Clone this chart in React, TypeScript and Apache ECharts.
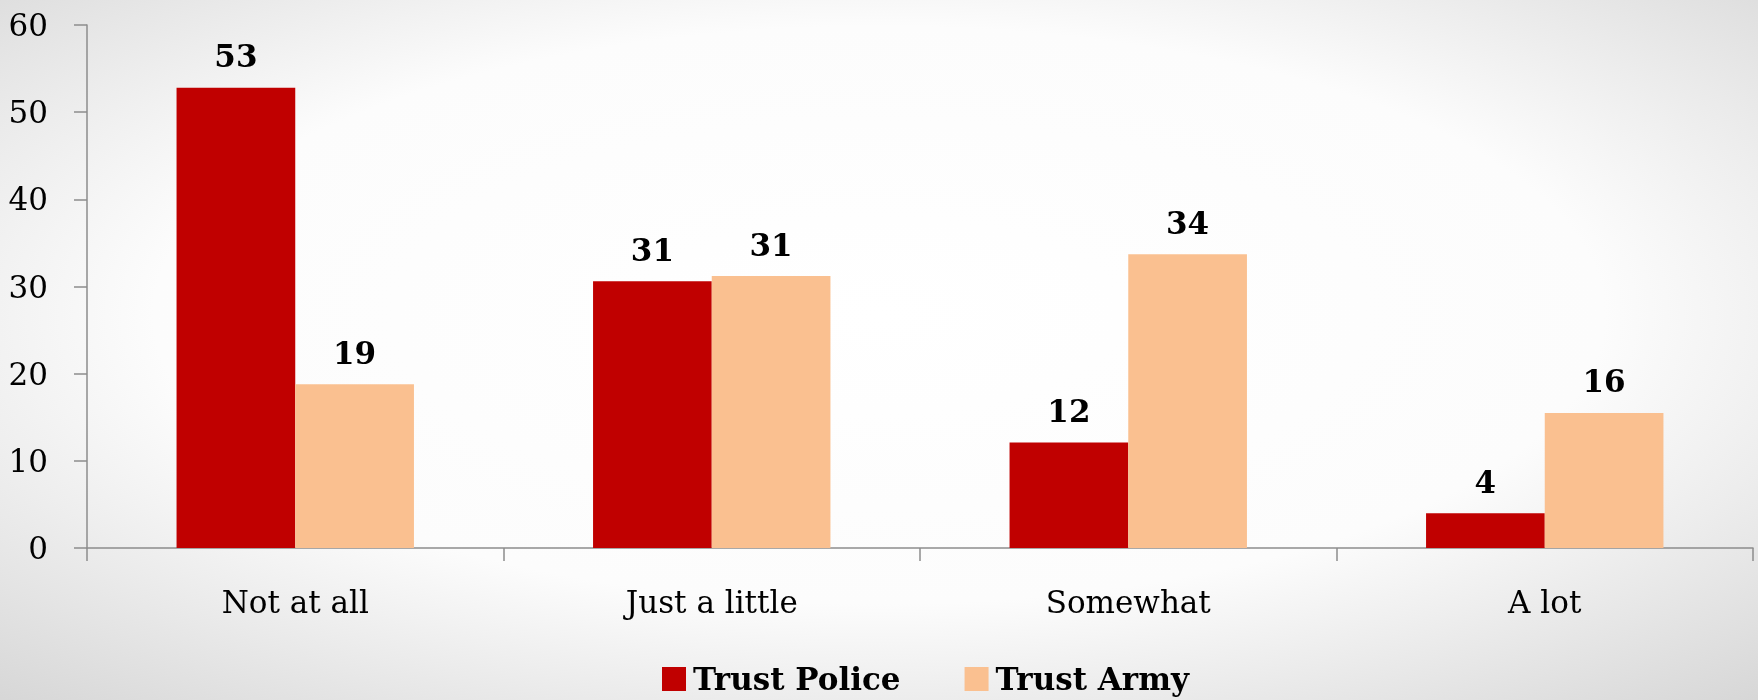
import React, { useEffect, useRef } from "react";
import * as echarts from "echarts";

const categories = ["Not at all", "Just a little", "Somewhat", "A lot"];
const trustPolice = [52.8, 30.6, 12.1, 4.0];
const trustArmy = [18.8, 31.2, 33.7, 15.5];
const seriesNames = ["Trust Police", "Trust Army"];
const yTicks = { min: 0, max: 60, interval: 10 };

const FONT = "DejaVu Serif";
const FS = 31;

export default function App() {
  const ref = useRef<HTMLDivElement>(null);
  useEffect(() => {
    if (!ref.current) return;
    const chart = echarts.init(ref.current, undefined, { renderer: "svg" });
    const labelStyle = {
      show: true,
      position: "top" as const,
      distance: 16,
      fontFamily: FONT,
      fontWeight: "bold" as const,
      fontSize: FS,
      color: "#000",
      formatter: (p: any) => String(Math.round(p.value)),
    };
    chart.setOption({
      animation: false,
      backgroundColor: {
        type: "radial",
        x: 0.5,
        y: 0.45,
        r: 0.75,
        colorStops: [
          { offset: 0, color: "#ffffff" },
          { offset: 0.55, color: "#fcfcfc" },
          { offset: 1, color: "#d6d6d6" },
        ],
      },
      grid: { left: 87, top: 25, width: 1666, height: 523, containLabel: false },
      legend: {
        data: seriesNames,
        left: 662,
        top: 662,
        padding: 0,
        icon: "rect",
        itemWidth: 24,
        itemHeight: 24,
        itemGap: 64,
        textStyle: {
          fontFamily: FONT,
          fontWeight: "bold",
          fontSize: FS,
          lineHeight: 34,
          color: "#000",
          padding: [0, 0, 0, 2],
        },
      },
      xAxis: {
        type: "category",
        data: categories,
        axisLine: { show: true, lineStyle: { color: "#8c8c8c", width: 1.5 } },
        axisTick: { show: true, length: 13, lineStyle: { color: "#8c8c8c", width: 1.5 } },
        axisLabel: { fontFamily: FONT, fontSize: FS, color: "#000", margin: 38 },
      },
      yAxis: {
        type: "value",
        min: yTicks.min,
        max: yTicks.max,
        interval: yTicks.interval,
        splitLine: { show: false },
        axisLine: { show: true, lineStyle: { color: "#8c8c8c", width: 1.5 } },
        axisTick: { show: true, length: 13, lineStyle: { color: "#8c8c8c", width: 1.5 } },
        axisLabel: { fontFamily: FONT, fontSize: FS, color: "#000", margin: 39 },
      },
      series: [
        {
          name: seriesNames[0],
          type: "bar",
          data: trustPolice,
          barGap: "0%",
          barCategoryGap: "43%",
          itemStyle: { color: "#c00000" },
          label: labelStyle,
        },
        {
          name: seriesNames[1],
          type: "bar",
          data: trustArmy,
          barGap: "0%",
          barCategoryGap: "43%",
          itemStyle: { color: "#fac090" },
          label: labelStyle,
        },
      ],
    });
    return () => chart.dispose();
  }, []);
  return (
    <div
      ref={ref}
      style={{ position: "fixed", left: 0, top: 0, width: 1758, height: 700 }}
    />
  );
}
